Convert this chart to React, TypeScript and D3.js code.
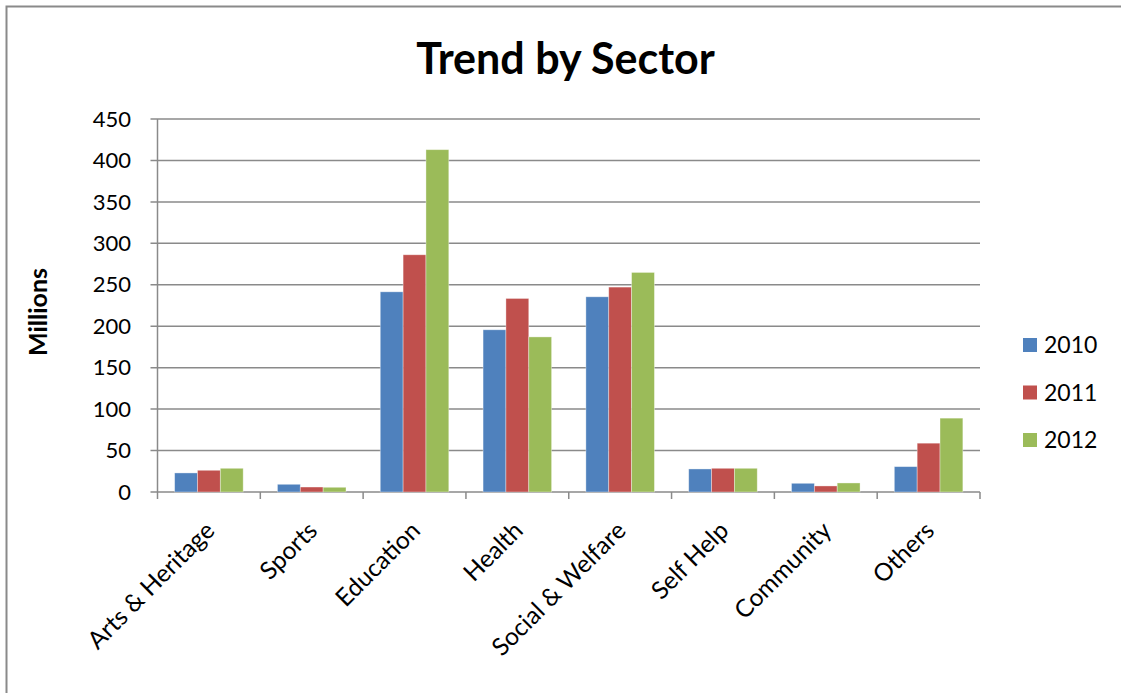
import React from "react";
import * as d3 from "d3";

const categories = ["Arts & Heritage", "Sports", "Education", "Health", "Social & Welfare", "Self Help", "Community", "Others"];
const seriesNames = ["2010", "2011", "2012"];
const values2010 = [23, 9.3, 241.5, 195.7, 235.5, 27.8, 10.5, 30.6];
const values2011 = [26.2, 6, 286.2, 233.5, 247.2, 28.6, 7.3, 58.9];
const values2012 = [28.6, 5.7, 413, 187.1, 264.9, 28.6, 10.9, 89.1];
const colors = ["#4F81BD", "#C0504D", "#9BBB59"];
const yTicks = [0, 50, 100, 150, 200, 250, 300, 350, 400, 450];

const W = 1121;
const H = 693;
const FONT = "Lato, 'Open Sans', sans-serif";

export default function App() {
  const left = 157.5;
  const right = 980;
  const top = 119;
  const bottom = 492;
  const series = [values2010, values2011, values2012];

  const x = d3.scaleBand<string>().domain(categories).range([left, right]).paddingInner(0).paddingOuter(0);
  const bw = x.bandwidth();
  const barW = bw / 4.5;
  const inner = d3.scaleBand<string>().domain(seriesNames).range([bw * 0.75 / 4.5, bw - bw * 0.75 / 4.5]).padding(0);
  const y = d3.scaleLinear().domain([0, 450]).range([bottom, top]);

  return (
    <svg width={W} height={H} style={{ position: "absolute", left: 0, top: 0, display: "block" }}>
      <rect x={0} y={0} width={W} height={H} fill="#fff" />
      <path d={`M6.5,${H + 5} V6.5 H${W + 5}`} fill="none" stroke="#8a8a8a" strokeWidth={2} />
      <text x={565.5} y={74} textAnchor="middle" fontFamily={FONT} fontWeight="bold" fontSize={43} fill="#000">
        Trend by Sector
      </text>
      <text transform={`translate(47,312) rotate(-90)`} textAnchor="middle" fontFamily={FONT} fontWeight="bold" fontSize={25} fill="#000">
        Millions
      </text>
      {yTicks.map((t) => (
        <g key={t}>
          <line x1={left - 7} x2={right} y1={y(t)} y2={y(t)} stroke="#8a8a8a" strokeWidth={1.5} />
          <text x={131} y={y(t)} dy="0.35em" textAnchor="end" fontFamily={FONT} fontSize={22} fill="#000">
            {t}
          </text>
        </g>
      ))}
      <line x1={left} x2={left} y1={top} y2={bottom} stroke="#8a8a8a" strokeWidth={1.5} />
      {d3.range(categories.length + 1).map((i) => {
        const xx = left + i * bw;
        return <line key={i} x1={xx} x2={xx} y1={bottom} y2={bottom + 7} stroke="#8a8a8a" strokeWidth={1.5} />;
      })}
      {categories.map((c, ci) => (
        <g key={c}>
          {series.map((s, si) => {
            const bx = (x(c) as number) + (inner(seriesNames[si]) as number);
            return (
              <rect
                key={si}
                x={bx}
                y={y(s[ci])}
                width={barW}
                height={y(0) - y(s[ci])}
                fill={colors[si]}
                stroke="rgba(255,255,255,0.45)"
                strokeWidth={0.8}
              />
            );
          })}
        </g>
      ))}
      {categories.map((c) => {
        const cx = (x(c) as number) + bw / 2 - 5;
        const cy = 520;
        return (
          <text
            key={c}
            transform={`translate(${cx},${cy}) rotate(-45)`}
            textAnchor="end"
            dy="0.7em"
            fontFamily={FONT}
            fontSize={24.5}
            fill="#000"
          >
            {c}
          </text>
        );
      })}
      {seriesNames.map((n, i) => {
        const cy = 345 + i * 47.5;
        return (
          <g key={n}>
            <rect x={1023} y={cy - 7} width={14} height={14} fill={colors[i]} />
            <text x={1044} y={cy} dy="0.36em" fontFamily={FONT} fontSize={23} fill="#000">
              {n}
            </text>
          </g>
        );
      })}
    </svg>
  );
}
